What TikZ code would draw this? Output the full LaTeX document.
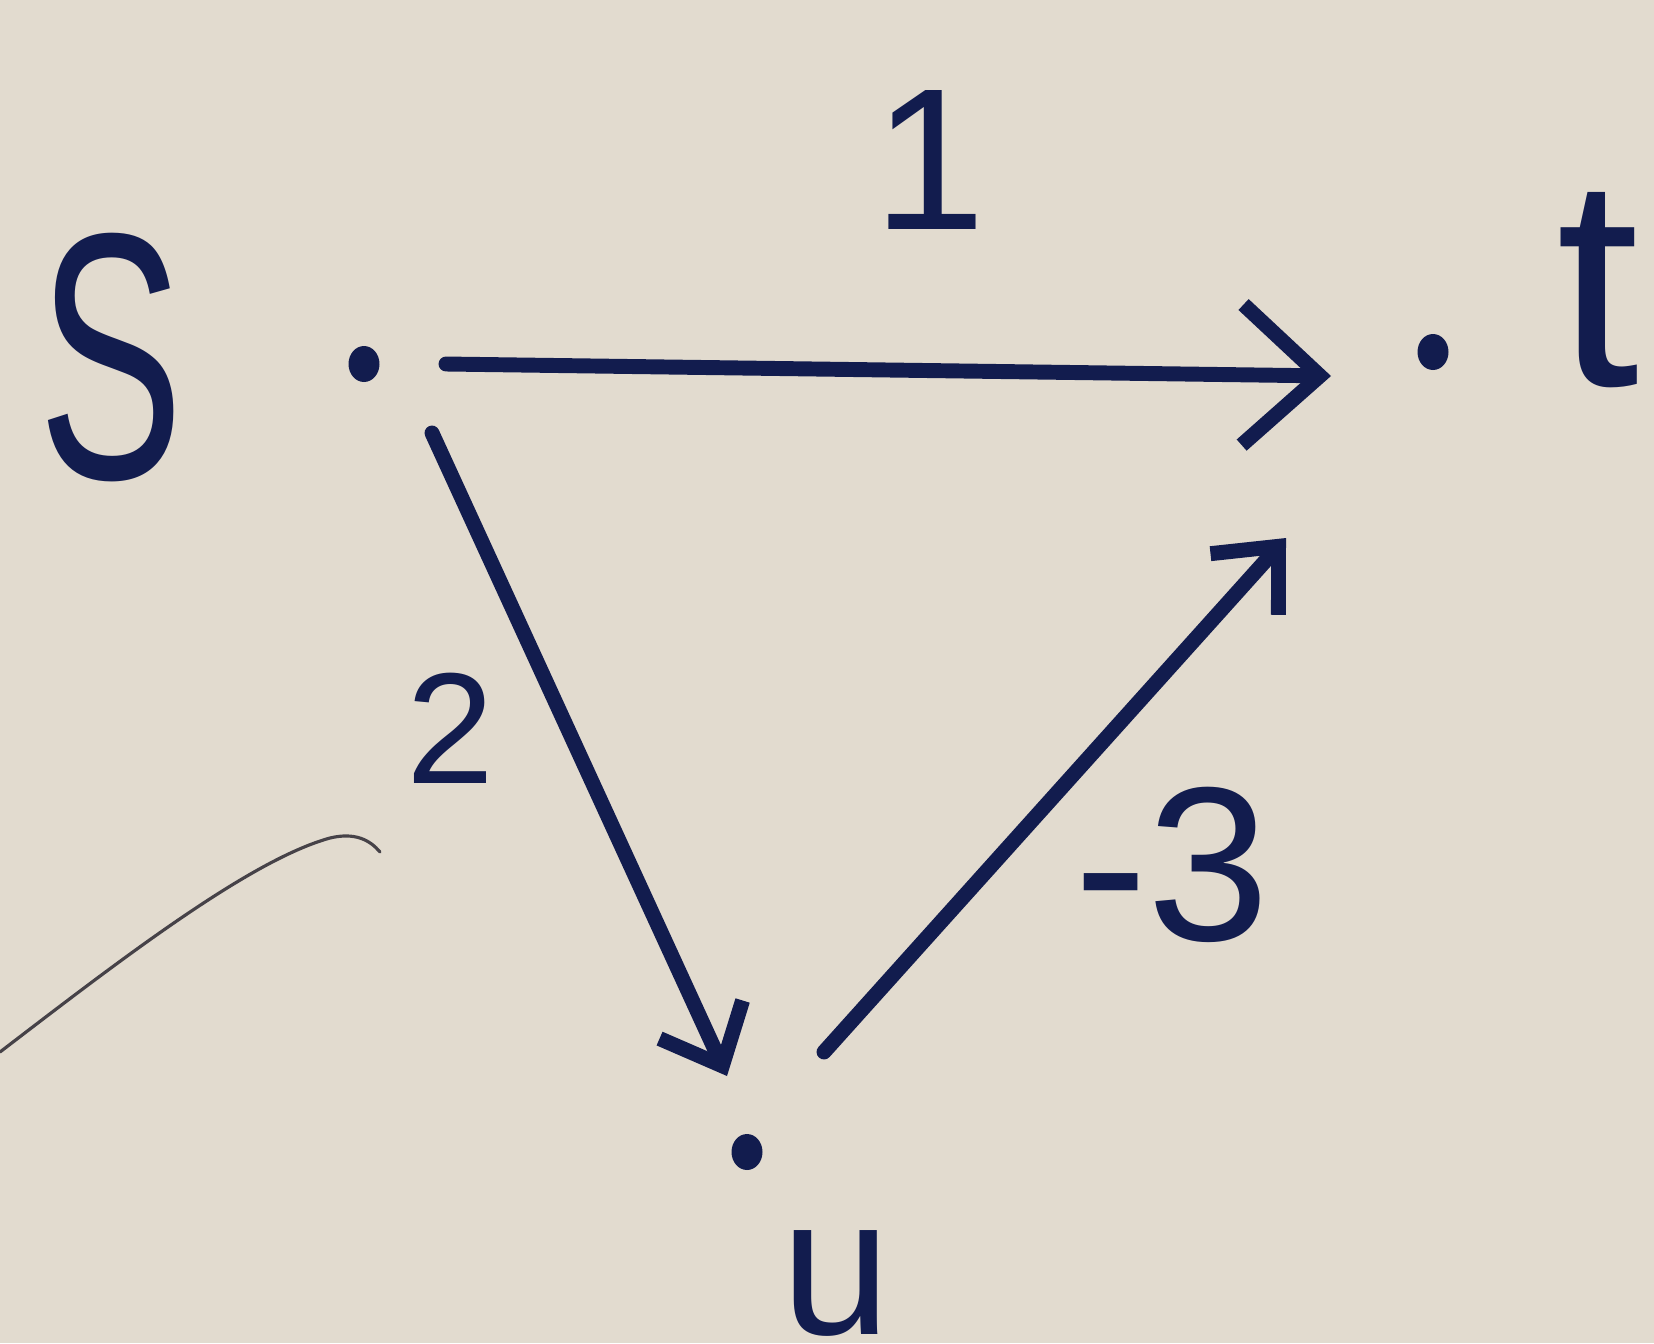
\documentclass[tikz,border=0pt]{standalone}
\usepackage{fontspec}
\setmainfont{Liberation Sans}
\usetikzlibrary{arrows.meta,shapes.geometric}
\definecolor{paper}{RGB}{226,219,207}
\definecolor{ink}{RGB}{18,28,78}
\definecolor{pencil}{RGB}{70,66,72}
\begin{document}
\begin{tikzpicture}[x=0.02cm,y=-0.02cm,
  vdot/.style={ellipse,fill=ink,inner sep=0pt,minimum width=0.62cm,minimum height=0.72cm},
  lbl/.style={text=ink,inner sep=0pt},
  edge/.style={draw=ink,line width=8.5pt,line cap=round,line join=round},
  bigtip/.style={-{Straight Barb[length=44pt,width=80pt,line width=8.5pt]}},
  smalltip/.style={-{Straight Barb[length=29pt,width=52pt,line width=8.5pt]}}]
\fill[paper] (0,0) rectangle (1654,1343);
\useasboundingbox (0,0) rectangle (1654,1343);
% vertices
\node[vdot] (s) at (364,364) {};
\node[vdot] (t) at (1433,352) {};
\node[vdot] (u) at (747,1152) {};
% vertex labels
\begin{scope}[xscale=0.62]
\node[lbl,font=\fontsize{200}{200}\selectfont,transform shape] (ls) at (111/0.62,358) {S};
\end{scope}
\node[lbl,font=\fontsize{170}{170}\selectfont] (lt) at (1598,290) {t};
\node[lbl,font=\fontsize{112}{112}\selectfont,anchor=north] (lu) at (836,1230) {u};
% edges
\draw[edge,bigtip] ([shift={(82,0)}]s.center) -- ([shift={(-102,24)}]t.center);
\draw[edge,smalltip] ([shift={(68,69)}]s.center) -- ([shift={(-20,-76)}]u.center);
\draw[edge,smalltip] ([shift={(77,-100)}]u.center) -- ([shift={(-147,186)}]t.center);
% edge labels
\node[lbl,font=\fontsize{115}{115}\selectfont] (w1) at (930,160) {1};
\node[lbl,font=\fontsize{90}{90}\selectfont] (w2) at (450,728) {2};
\node[lbl,font=\fontsize{125}{125}\selectfont] (w3) at (1172,865) {-3};
% stray pencil mark
\draw[pencil,line width=1.8pt,line cap=round] (0,1052) .. controls (120,960) and (250,860) .. (330,838) .. controls (355,832) and (370,840) .. (380,852);
\end{tikzpicture}
\end{document}
